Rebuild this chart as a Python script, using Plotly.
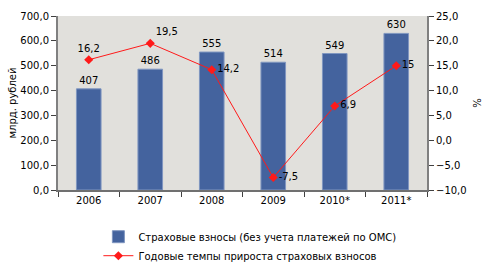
import plotly.graph_objects as go

years = ["2006", "2007", "2008", "2009", "2010*", "2011*"]
contributions = [407, 486, 555, 514, 549, 630]
growth = [16.2, 19.5, 14.2, -7.5, 6.9, 15]
growth_text_pos = ["top center", "top right", "middle right", "middle right", "middle right", "middle right"]

bar_name = "Страховые взносы (без учета платежей по ОМС)"
line_name = "Годовые темпы прироста страховых взносов"

FONT = "DejaVu Sans"

fig = go.Figure()
fig.add_trace(go.Bar(
    x=years, y=contributions, name=bar_name,
    marker=dict(color="#44639E", line=dict(color="#7F96C0", width=1)),
    text=[str(v) for v in contributions], textposition="outside",
    textfont=dict(family=FONT, size=10, color="black"),
    cliponaxis=False,
))
fig.add_trace(go.Scatter(
    x=years, y=growth, name=line_name, yaxis="y2", mode="lines+markers+text",
    line=dict(color="#FF1A1A", width=1),
    marker=dict(symbol="diamond", size=7, color="#FF1A1A"),
    text=[f"{v:g}".replace(".", ",") for v in growth],
    textposition=growth_text_pos,
    textfont=dict(family=FONT, size=10, color="black"),
    cliponaxis=False,
))

fig.update_layout(
    width=483, height=271,
    margin=dict(l=58, r=56, t=16, b=81, autoexpand=False),
    paper_bgcolor="white", plot_bgcolor="#E1E0DC",
    font=dict(family=FONT, size=10, color="black"),
    separators=", ",
    bargap=0.6,
    showlegend=True,
    legend=dict(x=0.52, xanchor="center", y=-0.185, yanchor="top",
                orientation="v", font=dict(family=FONT, size=10),
                bgcolor="rgba(0,0,0,0)", itemwidth=30, tracegroupgap=0),
    xaxis=dict(showline=True, linecolor="#707070", linewidth=2,
               ticks="outside", tickson="boundaries", ticklen=5, tickcolor="#404040",
               showgrid=False),
    yaxis=dict(range=[0, 700], dtick=100, tickformat=".1f",
               showline=True, linecolor="#808080", linewidth=2,
               ticks="outside", ticklen=5, tickcolor="#404040", showgrid=False, zeroline=False,
               title=dict(text="млрд. рублей", standoff=2, font=dict(size=10))),
    yaxis2=dict(range=[-10, 25], dtick=5, tickformat=".1f", overlaying="y", side="right",
                showline=True, linecolor="#808080", linewidth=2,
                ticks="outside", ticklen=5, tickcolor="#404040", showgrid=False, zeroline=False,
                title=dict(text="%", standoff=8, font=dict(size=10))),
)

fig.write_html("out.html")
